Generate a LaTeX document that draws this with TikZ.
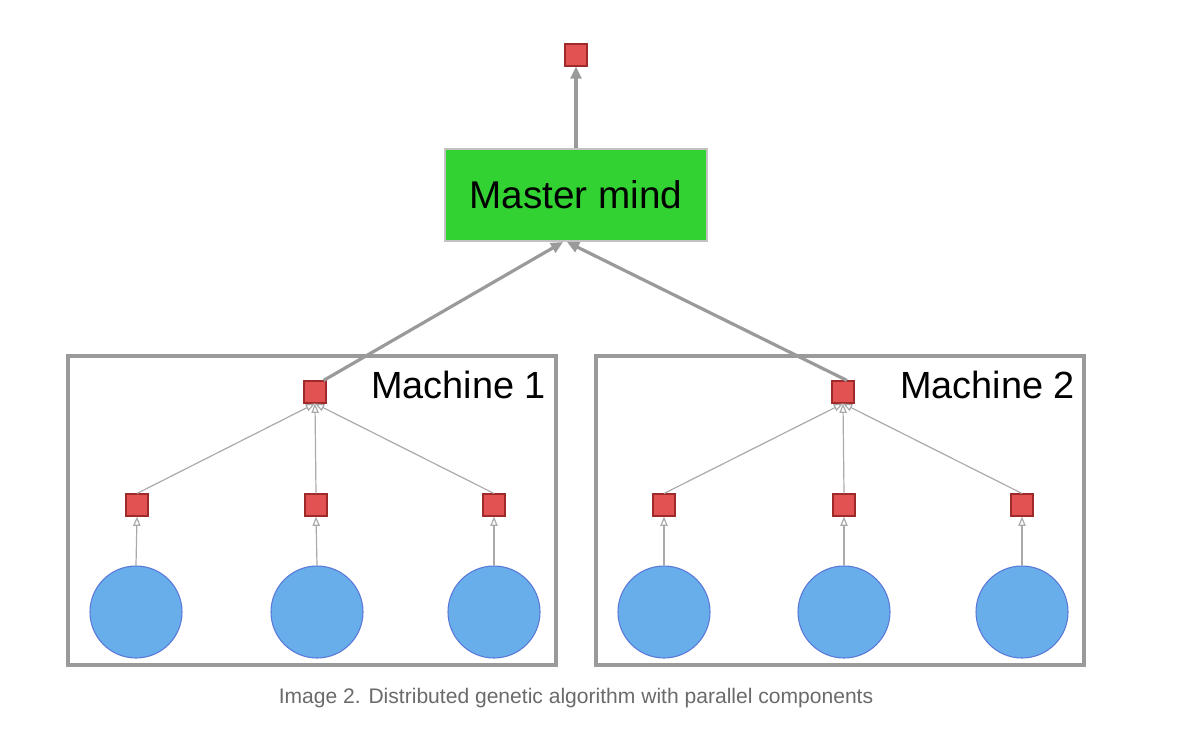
\documentclass[tikz,border=0pt]{standalone}
\usepackage{fontspec}
\setmainfont{Liberation Sans}
\usetikzlibrary{arrows.meta}
\definecolor{sqfill}{HTML}{E35252}
\definecolor{sqdraw}{HTML}{9E2A2A}
\definecolor{cfill}{HTML}{67AEEA}
\definecolor{cdraw}{HTML}{5A78D8}
\definecolor{mgreen}{HTML}{33D233}
\definecolor{linegray}{HTML}{9A9A9A}
\definecolor{thingray}{HTML}{AAAAAA}
\definecolor{capgray}{HTML}{6A6A6A}
\tikzset{
  sq/.style={draw=sqdraw, fill=sqfill, line width=0.8pt, minimum size=16.5pt, inner sep=0pt},
  circ/.style={circle, draw=cdraw, fill=cfill, line width=0.8pt, minimum size=69pt, inner sep=0pt},
  frame/.style={draw=linegray, line width=2.4pt},
  thick arrow/.style={draw=linegray, line width=2.4pt, -{Triangle[length=9pt,width=8pt]}},
  thin arrow/.style={draw=thingray, line width=0.9pt, -{Triangle[open,length=7pt,width=5.5pt]}},
  lbl/.style={font=\fontsize{28.4}{32}\selectfont, inner sep=0pt, anchor=base east}
}
\begin{document}
\begin{tikzpicture}[x=0.75pt,y=-0.75pt]
\useasboundingbox (0,0) rectangle (1182,735);
% top output
\node[sq] (out) at (576,55) {};
\node[draw=linegray!60, line width=0.8pt, fill=mgreen, minimum width=196.5pt, minimum height=69pt, inner sep=0pt,
      font=\fontsize{29}{32}\selectfont] (mm) at (576,195) {Master mind};
\draw[thick arrow] (mm.north) -- (out.south);
% frames
\node[frame, minimum width=366pt, minimum height=231.75pt, inner sep=0pt] (f1) at (312,510.5) {};
\node[frame, minimum width=366pt, minimum height=231.75pt, inner sep=0pt] (f2) at (840,510.5) {};
\node[lbl] (l1) at (546,398) {Machine 1};
\node[lbl] (l2) at (1075,398) {Machine 2};
% machine 1
\node[sq] (t1) at (315,392) {};
\node[sq] (a1) at (137,505) {};
\node[sq] (b1) at (316,505) {};
\node[sq] (c1) at (494,505) {};
\node[circ] (ca1) at (136,612) {};
\node[circ] (cb1) at (317,612) {};
\node[circ] (cc1) at (494,612) {};
% machine 2
\node[sq] (t2) at (843,392) {};
\node[sq] (a2) at (664,505) {};
\node[sq] (b2) at (844,505) {};
\node[sq] (c2) at (1022,505) {};
\node[circ] (ca2) at (664,612) {};
\node[circ] (cb2) at (844,612) {};
\node[circ] (cc2) at (1022,612) {};
% thin arrows
\foreach \i in {1,2}{
  \draw[thin arrow] (ca\i.north) -- (a\i.south);
  \draw[thin arrow] (cb\i.north) -- (b\i.south);
  \draw[thin arrow] (cc\i.north) -- (c\i.south);
  \draw[thin arrow] (a\i.north) -- (t\i.south);
  \draw[thin arrow] (b\i.north) -- (t\i.south);
  \draw[thin arrow] (c\i.north) -- (t\i.south);
}
% thick arrows to master
\coordinate (m1) at (563,242);
\coordinate (m2) at (567,242);
\draw[thick arrow] (t1.north east) ++(-3,0) -- (m1);
\draw[thick arrow] (t2.north) ++(4,0) -- (m2);
% caption
\node[font=\fontsize{15.8}{19}\selectfont, text=capgray, inner sep=0pt] (cap) at (576,698) {Image 2. Distributed genetic algorithm with parallel components};
\end{tikzpicture}
\end{document}
